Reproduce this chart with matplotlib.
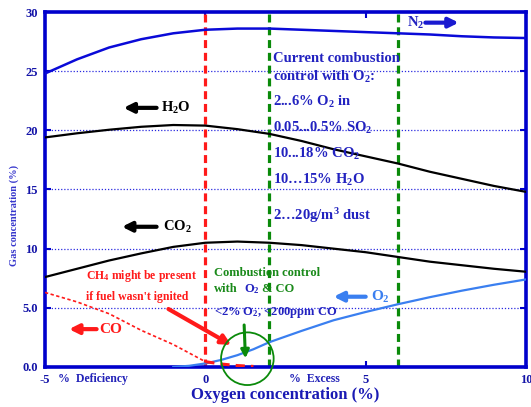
import matplotlib
matplotlib.use('Agg')
import matplotlib.pyplot as plt
from matplotlib.patches import Ellipse

plt.rcParams['font.family'] = 'Liberation Serif'
plt.rcParams['font.weight'] = 'bold'
plt.rcParams['axes.labelweight'] = 'bold'
plt.rcParams['mathtext.fontset'] = 'custom'
plt.rcParams['mathtext.rm'] = 'Liberation Serif:bold'
plt.rcParams['mathtext.it'] = 'Liberation Serif:bold'
plt.rcParams['mathtext.bf'] = 'Liberation Serif:bold'

# data (oxygen % vs gas %)
x_main = [-5, -4, -3, -2, -1, 0, 1, 2, 3, 4, 5, 6, 7, 8, 9, 10]
n2 = [24.8, 26.0, 27.0, 27.7, 28.2, 28.5, 28.6, 28.6, 28.5, 28.4, 28.3, 28.2, 28.1, 27.95, 27.85, 27.8]
h2o = [19.4, 19.75, 20.05, 20.3, 20.45, 20.4, 20.1, 19.7, 19.1, 18.4, 17.8, 17.2, 16.5, 15.9, 15.3, 14.8]
co2 = [7.6, 8.3, 9.0, 9.6, 10.15, 10.5, 10.6, 10.5, 10.3, 10.0, 9.7, 9.3, 8.9, 8.6, 8.3, 8.05]
x_co = [-5, -4, -3, -2, -1, 0]
co = [6.3, 5.5, 4.5, 3.1, 1.9, 0.45]
x_co_tail = [0, 0.5, 1, 1.5]
co_tail = [0.45, 0.25, 0.12, 0.05]
x_o2 = [-1, -0.5, 0, 0.5, 1, 1.5, 2, 3, 4, 5, 6, 7, 8, 9, 10]
o2 = [0, 0.1, 0.3, 0.6, 1.0, 1.5, 2.1, 3.05, 3.95, 4.65, 5.3, 5.9, 6.45, 6.95, 7.4]

yticks = [0, 5, 10, 15, 20, 25, 30]
ytick_labels = ['0.0', '5.0', '10', '15', '20', '25', '30']
xticks = [-5, 0, 5, 10]
xtick_labels = ['-5', '0', '5', '10']

info_lines = ['Current combustion', 'control with O$_2$:', '2...6% O$_2$ in',
              '0.05...0.5% SO$_2$', '10...18% CO$_2$', '10\u202615% H$_2$O',
              '2\u202620g/m$^3$ dust']
info_y = [26.1, 24.5, 22.4, 20.2, 18.0, 15.8, 12.8]

blue = '#0000cc'
txtblue = '#2222c0'
green = '#1a8a1a'
red = '#ff1a1a'
lblue = '#3a7ff0'

fig = plt.figure(figsize=(5.31, 4.07), dpi=100)
ax = fig.add_axes([0.0847, 0.0983, 0.906, 0.8722])

for v in [5, 10, 15, 20, 25]:
    ax.axhline(v, color='#2a2ae0', lw=0.9, ls=(0, (1, 1.5)), zorder=1)

ax.plot(x_main, n2, color='#0a0ad8', lw=1.8, zorder=3)
ax.plot(x_main, h2o, color='black', lw=1.6, zorder=3)
ax.plot(x_main, co2, color='black', lw=1.6, zorder=3)
ax.plot(x_o2, o2, color=lblue, lw=1.6, zorder=3)
ax.plot(x_co, co, color=red, lw=1.2, ls=(0, (2, 1.5)), zorder=3)
ax.plot(x_co_tail, co_tail, color=red, lw=2.2, ls=(0, (3, 2)), zorder=3)

ax.axvline(0, color=red, lw=2.3, ls=(0, (2.5, 1.5)), zorder=2)
ax.axvline(2, color='#0a8a0a', lw=2.3, ls=(0, (2.5, 1.5)), zorder=2)
ax.axvline(6, color='#0a8a0a', lw=2.3, ls=(0, (2.5, 1.5)), zorder=2)

ax.set_xlim(-5, 10)
ax.set_ylim(0, 30)
ax.set_xticks(xticks)
ax.set_xticklabels(xtick_labels)
ax.set_yticks(yticks)
ax.set_yticklabels(ytick_labels)
ax.tick_params(direction='in', length=4, width=1.5, color=blue, labelcolor='#1414a8',
               labelsize=9, top=True, right=True, pad=5)
for s in ax.spines.values():
    s.set_color(blue)
    s.set_linewidth(2.6)

ax.set_xlabel('Oxygen concentration (%)', fontsize=12, color='#1a1ab4',
              fontweight='bold', labelpad=1)
fig.text(0.027, 0.47, 'Gas concentration (%)', rotation=90, fontsize=7.5,
         color='#3535cc', ha='center', va='center', fontweight='bold')

ax.text(-4.6, -1.0, '%  Deficiency', fontsize=8.5, color='#2222b8', va='center', clip_on=False)
ax.text(2.6, -1.0, '%  Excess', fontsize=8.5, color='#2222b8', va='center', clip_on=False)

for s, yy in zip(info_lines, info_y):
    ax.text(2.1, yy, s, fontsize=10.5, color=txtblue, va='center')

def arrow(x0, y0, x1, y1, c, lw=3, ms=14):
    ax.annotate('', xy=(x1, y1), xytext=(x0, y0),
                arrowprops=dict(arrowstyle='-|>', lw=lw, color=c, mutation_scale=ms,
                                shrinkA=0, shrinkB=0), zorder=5)

ax.text(6.3, 29.1, 'N$_2$', fontsize=10.5, color=txtblue, va='center')
arrow(6.86, 29.1, 7.9, 29.1, '#1a1ad0')
ax.text(-1.37, 21.9, 'H$_2$O', fontsize=10.5, color='black', va='center')
arrow(-1.52, 21.9, -2.55, 21.9, 'black')
ax.text(-1.32, 11.85, 'CO$_2$', fontsize=10.5, color='black', va='center')
arrow(-1.52, 11.85, -2.6, 11.85, 'black')
ax.text(-3.3, 3.2, 'CO', fontsize=11, color=red, va='center')
arrow(-3.39, 3.2, -4.25, 3.2, red)
ax.text(5.16, 5.94, 'O$_2$', fontsize=11, color=lblue, va='center')
arrow(5.0, 5.94, 4.0, 5.94, lblue)

ax.text(-3.73, 7.7, 'CH$_4$ might be present', fontsize=8.5, color=red, va='center')
ax.text(-3.73, 5.9, "if fuel wasn't ignited", fontsize=8.5, color=red, va='center')
arrow(-1.15, 4.9, 0.81, 1.86, red, lw=3, ms=14)

ax.text(0.28, 7.96, 'Combustion control', fontsize=9, color=green, va='center')
ax.text(0.28, 6.6, 'with', fontsize=9, color=green, va='center')
ax.text(1.21, 6.6, 'O$_2$', fontsize=9, color=txtblue, va='center')
ax.text(1.78, 6.6, '& CO', fontsize=9, color=green, va='center')
ax.text(0.28, 4.6, '<2% O$_2$, <200ppm CO', fontsize=9, color=txtblue, va='center')
arrow(1.21, 3.55, 1.25, 0.73, '#0a8a0a', lw=2.2, ms=12)

ax.add_patch(Ellipse((1.31, 0.7), 1.64, 4.45, fill=False, ec='#0a8a0a', lw=1.3,
                     clip_on=False, zorder=6))

fig.savefig('out.png', dpi=100)
